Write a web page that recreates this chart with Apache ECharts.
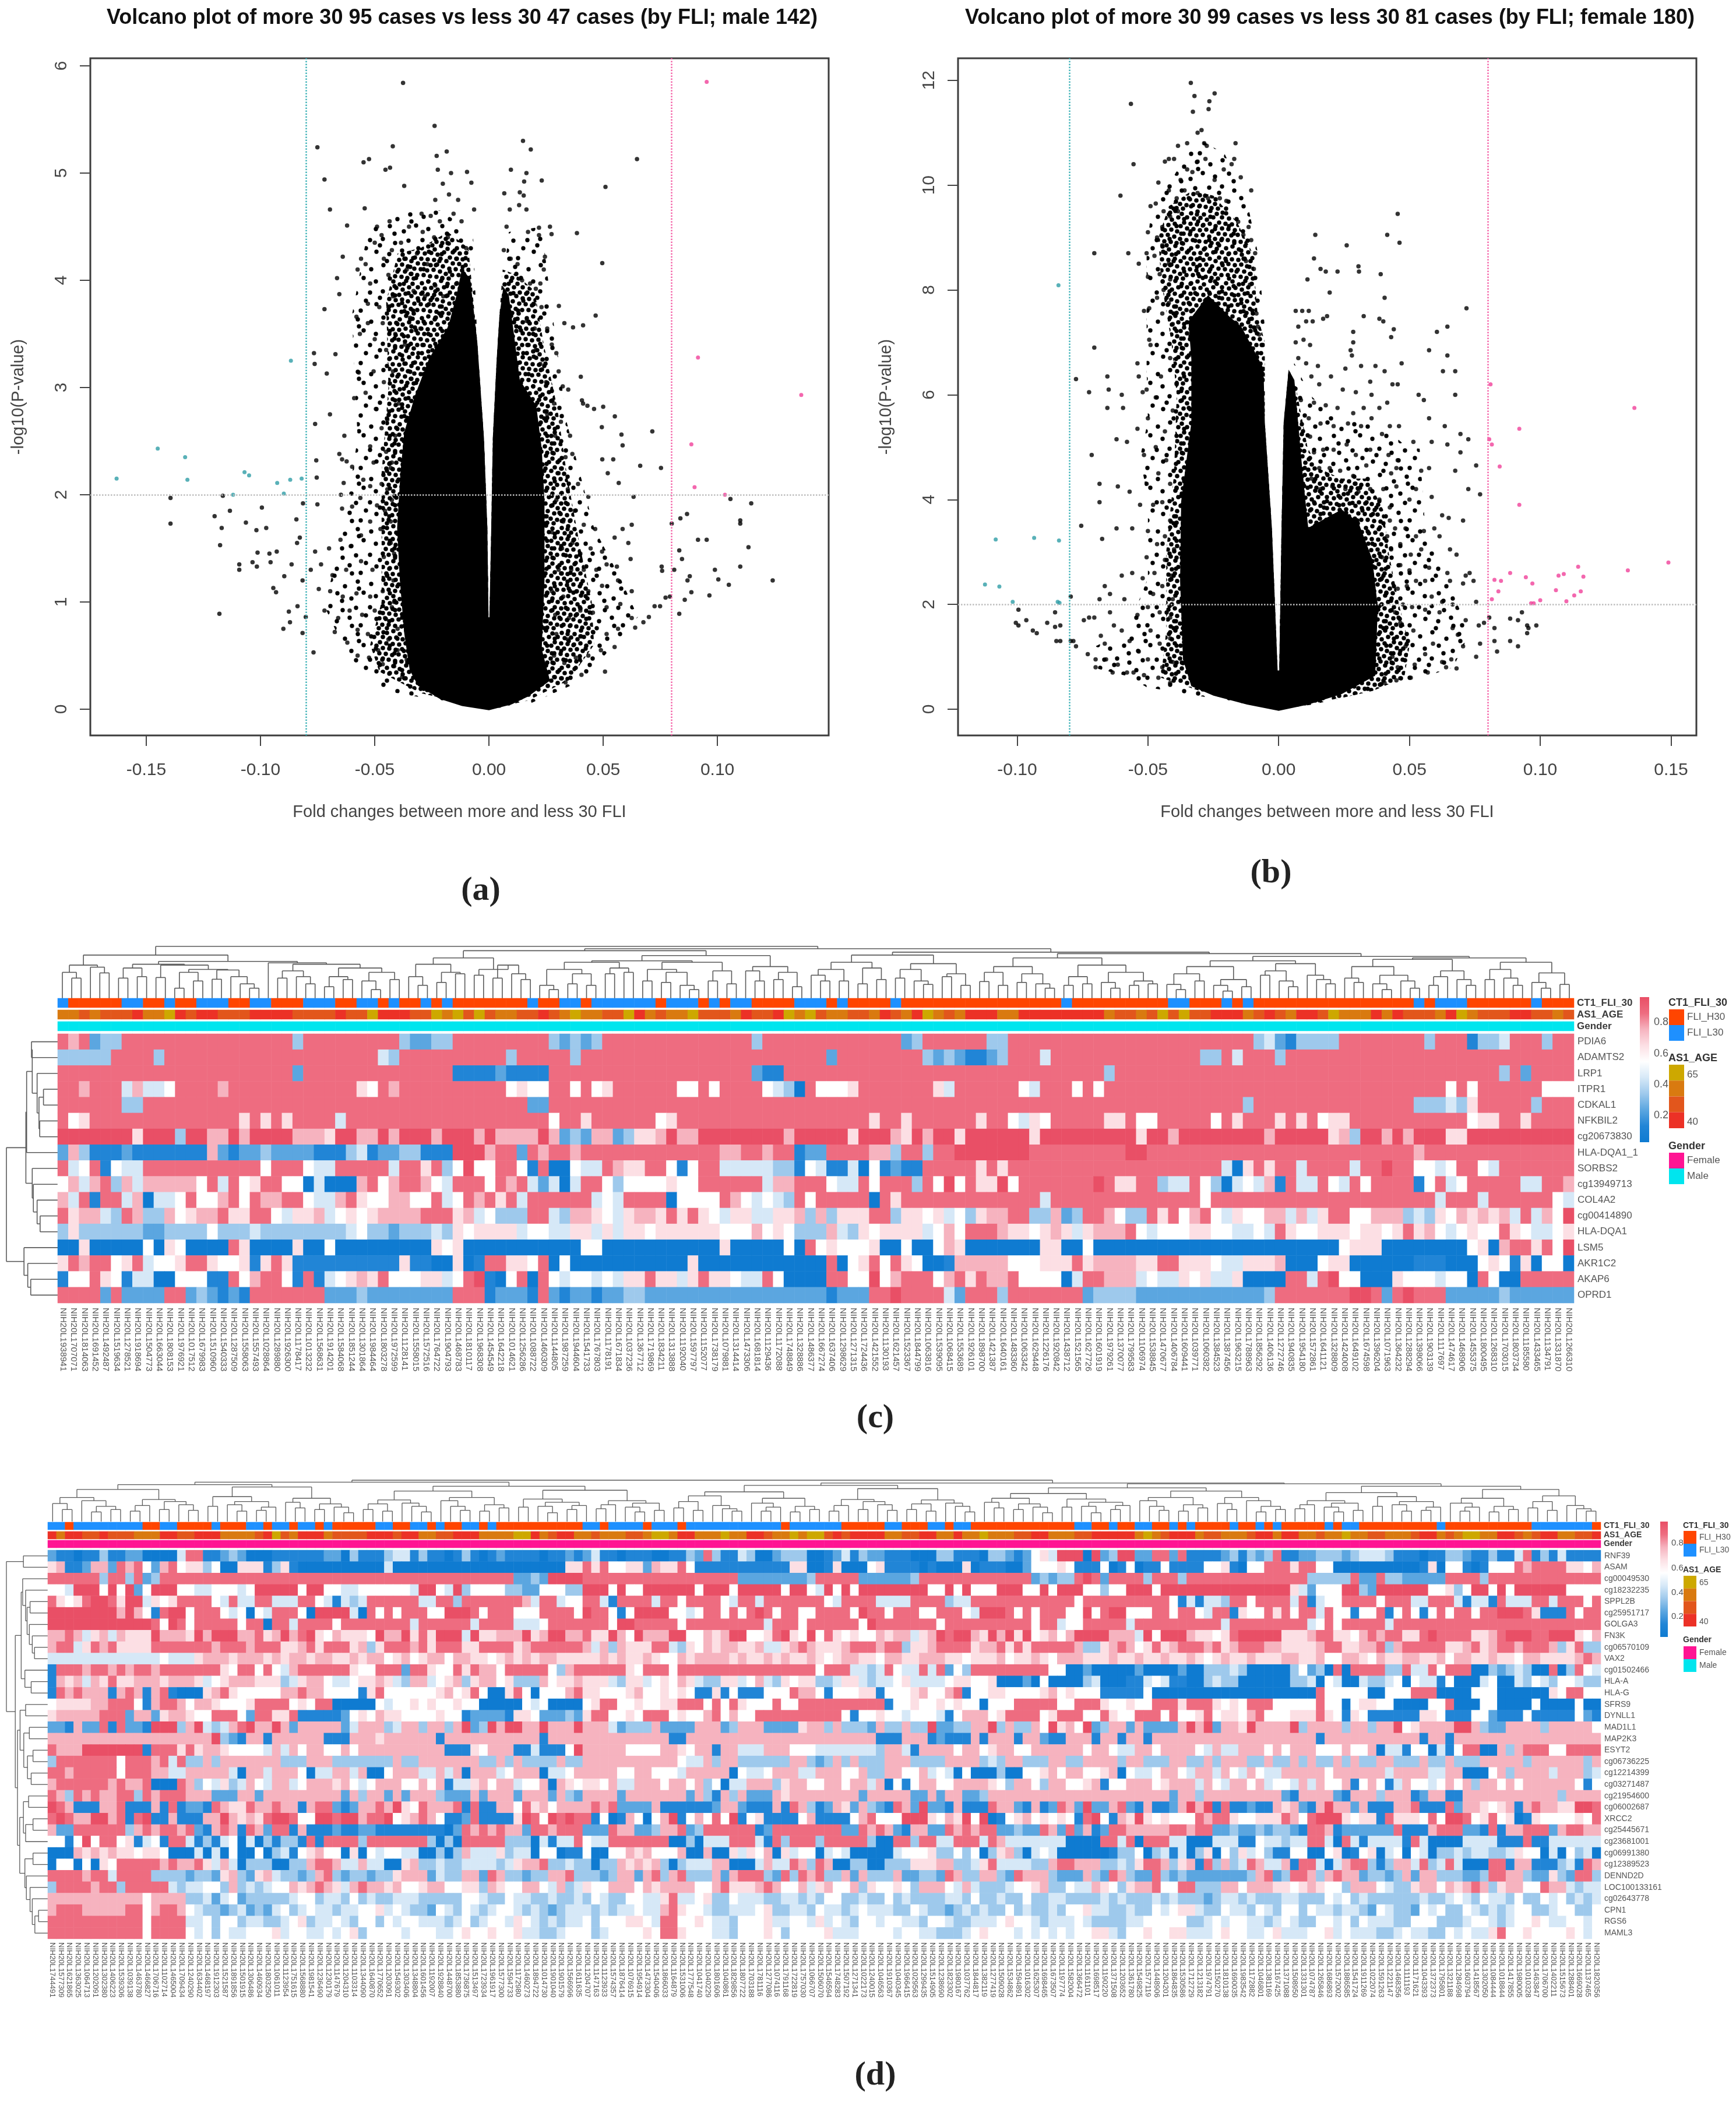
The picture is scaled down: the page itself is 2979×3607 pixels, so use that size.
<!DOCTYPE html>
<html><head><meta charset="utf-8">
<style>html,body{margin:0;padding:0;background:#fff}#c{width:2979px;height:3607px}</style>
<script src="https://cdn.jsdelivr.net/npm/echarts@6/dist/echarts.min.js"></script>
</head><body><div id="c"></div>
<script>
/* ---------- volcano data ---------- */
const xTicksA=[-0.15,-0.10,-0.05,0,0.05,0.10];
const yTicksA=[0,1,2,3,4,5,6];
const xTicksB=[-0.10,-0.05,0,0.05,0.10,0.15];
const yTicksB=[0,2,4,6,8,10,12];
const tealA=[[-.163,2.15],[-.145,2.43],[-.133,2.35],[-.132,2.14],[-.112,2.0],[-.107,2.21],[-.105,2.18],[-.0927,2.11],[-.0898,2.01],[-.087,2.14],[-.082,2.15],[-.0867,3.25]];
const pinkA=[[.0953,5.85],[.0915,3.28],[.1367,2.93],[.0886,2.47],[.09,2.07],[.1033,2.0]];
const coreA=[[0,-.01],[-.0118,.03],[-.0214,.094],[-.031,.217],[-.0347,.365],[-.0371,.71],[-.039,1.2],[-.0402,1.69],[-.0388,2.19],[-.0371,2.58],[-.0323,2.93],[-.0262,3.27],[-.0178,3.57],[-.0142,3.86],[-.0118,4.11],[-.0082,4.01],[-.0051,3.42],[-.0022,2.53],[-.0007,1.69],[-.0002,.857],[.0002,.857],[.001,1.69],[.0017,2.53],[.0034,3.27],[.0046,3.67],[.0063,3.94],[.0087,3.86],[.0111,3.47],[.0135,3.07],[.0207,2.83],[.0231,2.43],[.0243,1.94],[.0243,1.2],[.0231,.56],[.0267,.266],[.0171,.118],[.0099,.044]];
const denseLeftA=[[0,0],[-.03,.15],[-.048,.35],[-.052,.6],[-.047,1.0],[-.047,2.2],[-.044,3.0],[-.045,3.8],[-.04,4.25],[-.03,4.3],[-.018,4.45],[-.009,4.3],[-.0051,3.42],[-.0022,2.53],[-.0007,1.69],[-.0002,.857]];
const denseRightA=[[.0002,.857],[.001,1.69],[.0017,2.53],[.0034,3.27],[.0046,3.67],[.006,4.1],[.012,4.05],[.02,3.9],[.024,3.4],[.03,2.8],[.034,2.2],[.04,1.5],[.045,1.0],[.046,.6],[.035,.27],[.017,.08],[0,0]];
const sparseLeftA=[[0,0],[-.0455,.17],[-.0623,.51],[-.072,.96],[-.0636,1.69],[-.0575,2.53],[-.06,3.67],[-.0527,4.5],[-.0407,4.65],[-.0214,4.65],[-.007,4.45],[-.0051,3.42],[-.0022,2.53],[-.0007,1.69],[-.0002,.857]];
const sparseRightA=[[.0002,.857],[.001,1.69],[.0017,2.53],[.0034,3.27],[.0046,3.67],[.0087,4.45],[.0231,4.5],[.0267,3.86],[.034,2.68],[.046,1.69],[.058,1.2],[.0652,.86],[.0412,.27],[.0171,.044],[0,0]];
const blackA=[[-.0376,5.84],[-.0751,5.24],[-.0421,5.25],[-.0238,5.44],[.0149,5.3],[.0183,5.22],[.0648,5.13],[.051,4.87],[.0496,4.16],[.0385,4.44],[-.072,4.94],[-.0696,4.66],[-.0621,4.51],[-.0544,4.67],[-.0549,5.1],[-.0525,5.13],[-.0453,5.03],[-.0433,5.05],[-.0371,4.88],[-.0229,5.16],[-.0185,5.2],[-.0224,5.03],[-.0166,5.0],[-.0096,5.01],[-.0077,4.91],[-.0202,4.9],[.0096,5.03],[.0164,5.0],[.0154,4.92],[.0067,4.81],[.0231,4.93],[.0135,4.82],[.0152,4.79],[.0132,4.7],[.0091,4.66],[.0164,4.66],[.0077,4.5],[.0171,4.45],[.0219,4.49],[.0267,4.5],[.0219,4.42],[.0274,4.43],[.0467,3.67],[.0412,3.58],[.0368,3.56],[.033,3.6],[.0306,3.76],[.0402,3.1],[.0323,3.01],[.0347,2.98],[.0407,2.88],[.0412,2.85],[.0431,2.83],[.046,2.8],[.05,2.82],[.0551,2.73],[.0715,2.59],[.058,2.56],[.0585,2.46],[.0494,2.63],[.0496,2.33],[.0544,2.33],[.0662,2.27],[.0753,2.25],[.052,2.2],[.0568,2.11],[.0633,1.98],[.08,1.73],[.0838,1.78],[.0867,1.82],[.1057,1.96],[.1148,1.92],[.11,1.76],[.11,1.73],[.0915,1.58],[.0953,1.58],[.1136,1.51],[.0833,1.48],[.0845,1.4],[.11,1.33],[.0989,1.3],[.0879,1.24],[.0869,1.2],[.1004,1.21],[.1242,1.2],[.105,1.16],[.0965,1.06],[.0886,1.09],[.0857,1.02],[.0833,.89],[.0811,1.3],[.0758,1.29],[.0756,1.33],[.0792,1.05],[.0773,1.04],[.0749,.96],[.0725,.96],[.07,.86],[.0676,.81],[.064,.76],[.0508,.35],
[-.1394,1.97],[-.1394,1.73],[-.1165,1.99],[-.1134,1.85],[-.1201,1.8],[-.117,1.69],[-.1177,1.53],[-.118,.89],[-.0994,1.88],[-.1064,1.74],[-.0975,1.69],[-.1018,1.67],[-.1013,1.46],[-.1093,1.35],[-.1093,1.3],[-.1035,1.37],[-.1016,1.33],[-.0961,1.45],[-.0929,1.47],[-.0956,1.37],[-.0944,1.13],[-.0932,1.09],[-.0896,1.24],[-.0864,1.35],[-.0843,1.77],[-.0828,1.6],[-.084,1.55],[-.09,.75],[-.0876,.91],[-.0871,.81],[-.0838,.96],[-.0816,.71],[-.0768,.53],[-.0802,.86],[-.0816,1.2],[-.078,1.3],[-.0761,1.47],[-.0814,1.92],[-.0751,1.91],[-.0754,2.16],[-.0756,2.32],[-.0761,2.66],[-.0696,2.75],[-.071,3.13],[-.0766,3.32],[-.0763,3.22],[-.0672,3.31],[-.072,3.73],[-.0633,2.55],[-.0655,2.38],[-.0643,2.33],[-.0623,2.31],[-.0599,2.26],[-.0636,2.11],[-.0648,2.0],[-.0643,1.87],[-.0599,1.89],[-.0563,1.97],
[-.0665,4.02],[-.064,4.22],[-.0655,3.87],[-.0575,4.1],[-.056,4.2],[-.054,4.15],[-.052,3.97],[-.05,4.35],[-.049,4.5],[-.047,4.42],[-.046,4.2],[-.0435,4.55],[-.0425,4.28],[-.044,4.05],[-.048,3.75],[-.053,3.78],[-.058,3.66],[-.0565,3.5],[-.053,3.6],[-.05,3.45],[-.0465,3.6],[-.044,3.75],[-.042,3.85],[-.045,3.35],[-.041,3.5],[-.042,3.15],[-.046,3.05],[-.0505,3.15],[-.057,3.14],[-.054,2.95],[-.059,2.9],[-.0495,2.8],[-.047,2.62],[-.052,2.45],[-.0505,2.3],[-.0445,2.7],[-.045,2.4],[-.043,2.25],[-.047,2.1],[-.052,2.08],[-.055,2.14],[-.049,1.9],[-.0455,1.85],[-.0425,1.95],[-.0475,1.68],[-.052,1.75],[-.056,1.62],[-.0605,1.52],[-.065,1.58],[-.07,1.5],[-.0735,1.35],[-.0685,1.25],[-.0625,1.3],[-.056,1.38],[-.051,1.3],[-.046,1.42],[-.043,1.55],[-.0418,1.2],[-.0465,1.1],[-.052,1.05],[-.058,1.08],[-.064,1.05],[-.0695,1.1],[-.0745,1.12],[-.072,.92],[-.066,.85],[-.061,.92],[-.0555,.88],[-.05,.92],[-.0455,.85],[-.0425,.95],[-.0675,.72],[-.062,.62],[-.0575,.74],[-.053,.7],[-.0485,.55],[-.044,.65],[-.04,.55],[-.0575,.5],[-.0525,.48],[-.0465,.42],[-.0415,.4],[-.038,.3],[-.036,.46],
[-.0368,3.4],[-.0345,3.65],[-.033,3.9],[-.036,4.1],[-.0385,4.35],[-.035,4.5],[-.0315,4.25],[-.029,4.45],[-.027,4.15],[-.024,4.4],[-.0255,4.6],[-.0215,4.55],[-.018,4.4],[-.0155,4.62],[-.012,4.55],[-.0135,4.75],[-.0175,4.8],[-.0235,4.75],[-.0295,4.62],[-.01,4.3],[-.0065,4.66],[-.028,3.85],[-.0235,3.95],[-.02,3.85],[-.0235,3.65],[-.03,3.55],[-.035,3.15],[-.0395,2.85],[-.041,2.55],[-.0425,2.3],[-.0445,2.05],[-.043,1.75],[-.0415,1.45],[-.0445,1.25],[-.0415,1.0],[-.04,.75],
[.0065,4.28],[.0095,4.2],[.0125,4.15],[.0145,4.0],[.018,3.97],[.0205,3.92],[.0245,4.22],[.024,4.1],[.0225,3.97],[.0195,3.78],[.023,3.75],[.0165,3.62],[.02,3.55],[.0255,3.55],[.0275,3.4],[.0205,3.35],[.0225,3.22],[.0295,3.32],[.0305,3.15],[.025,3.05],[.0285,2.85],[.0255,2.75],[.0315,2.68],[.0355,2.55],[.029,2.55],[.0335,2.35],[.0365,2.38],[.0305,2.2],[.0345,2.05],[.039,2.1],[.0435,1.98],[.0295,1.95],[.0325,1.75],[.0375,1.85],[.0415,1.72],[.0465,1.68],[.0275,1.65],[.032,1.5],[.0365,1.55],[.04,1.45],[.0445,1.5],[.0495,1.47],[.055,1.6],[.0585,1.68],[.0625,1.72],[.061,1.55],[.0515,1.35],[.047,1.3],[.0415,1.3],[.036,1.3],[.0305,1.3],[.056,1.33],[.062,1.4],[.0565,1.2],[.0495,1.15],[.0435,1.1],[.0385,1.1],[.0325,1.05],[.0275,1.1],[.0625,1.1],[.0575,.98],[.0515,.95],[.0455,.9],[.04,.92],[.035,.85],[.029,.88],[.0625,.85],[.0565,.75],[.0515,.7],[.0455,.72],[.04,.68],[.0345,.65],[.0295,.7],[.055,.58],[.049,.55],[.0435,.5],[.038,.48],[.033,.43],[.0285,.5],[.0405,.32],[.0335,.25],[.0285,.3]];
const tealB=[[-.1123,2.38],[-.1082,3.24],[-.1068,2.34],[-.1017,2.05],[-.0935,3.27],[-.084,3.22],[-.0845,2.05],[-.0838,2.03],[-.0842,8.09]];
const pinkB=[[.081,6.2],[.0805,5.15],[.0815,5.05],[.0845,4.63],[.092,5.35],[.136,5.75],[.092,3.9],[.1335,2.65],[.149,2.8],[.0885,2.6],[.0825,2.47],[.085,2.45],[.0945,2.52],[.097,2.4],[.0815,2.1],[.084,2.25],[.0965,2.02],[.0975,2.02],[.1,2.08],[.106,2.27],[.107,2.55],[.109,2.58],[.11,2.06],[.113,2.17],[.1145,2.72],[.1155,2.25],[.1165,2.53]];
const coreB=[[0,-.03],[-.0121,.09],[-.0249,.26],[-.0334,.44],[-.0366,.95],[-.0377,2.45],[-.0373,3.96],[-.0334,5.47],[-.0334,6.68],[-.0345,7.4],[-.027,7.9],[-.019,7.5],[-.0143,7.3],[-.01,6.9],[-.0058,6.5],[-.0053,5.47],[-.0026,3.46],[-.0004,.74],[.0002,.74],[.0011,3.46],[.0019,5.47],[.0038,6.48],[.006,6.28],[.0092,4.47],[.0113,3.46],[.0241,3.81],[.0305,3.56],[.0358,2.86],[.0379,1.95],[.0369,.64],[.0241,.29],[.0113,.09]];
const denseLeftB=[[0,0],[-.0249,.26],[-.045,.6],[-.043,1.5],[-.043,3],[-.04,4.5],[-.039,6],[-.041,7],[-.045,8.2],[-.046,9],[-.042,9.6],[-.033,9.9],[-.025,9.8],[-.016,9.3],[-.01,8.7],[-.008,7.5],[-.0053,7],[-.0053,5.47],[-.0026,3.46],[-.0004,.74]];
const sparseLeftB=[[0,0],[-.0505,.42],[-.0569,.62],[-.0697,.78],[-.07,1.2],[-.058,1.5],[-.05,2.5],[-.05,4.0],[-.053,4.8],[-.05,5.5],[-.0505,6.48],[-.0505,8.69],[-.0484,9.7],[-.0398,10.2],[-.0313,10.9],[-.0207,10.6],[-.0121,9.7],[-.0079,8.69],[-.0053,7.28],[-.0053,5.47],[-.0026,3.46],[-.0004,.74]];
const denseRightB=[[.0002,.74],[.0011,3.46],[.0019,5.47],[.0038,6.48],[.006,6.3],[.011,5.0],[.015,4.6],[.024,4.4],[.034,4.4],[.04,3.8],[.042,3.0],[.046,2],[.05,1.2],[.048,.6],[.036,.35],[.013,.09],[0,0]];
const sparseRightB=[[.0002,.74],[.0011,3.46],[.0019,5.47],[.0038,6.48],[.006,6.6],[.012,6],[.02,5.6],[.04,5.4],[.049,5.0],[.0539,4.97],[.056,3.46],[.0646,2.45],[.073,1.45],[.0667,.8],[.0454,.44],[.0113,.09],[0,0]];
const blackB=[[-.0336,11.95],[-.0328,11.4],[-.0322,11.7],[-.0268,11.45],[-.0265,11.6],[-.0245,11.75],[-.0565,11.55],[-.0555,10.4],[-.0295,11.05],[-.031,11],[-.0285,10.8],[-.0275,10.75],[-.035,10.8],[-.04,10.5],[-.0385,10.75],[-.0165,10.8],[-.017,10.5],[-.018,10.4],[-.021,10.3],[-.0145,10.15],[-.0105,9.9],[-.0605,9.8],[-.046,10.05],[-.047,9.65],[-.049,9.6],[-.05,9.1],[-.0505,8.7],[-.0535,8.5],[-.0575,8.7],[-.0705,8.7],[-.05,8.25],[-.0495,7.65],[-.0515,7.6],[-.0435,10.45],[-.042,10.5],[-.0375,10.1],[-.035,10.3],[-.033,10.25],[-.031,10.45],[-.028,10.5],[-.0245,10.1],[-.0225,9.75],[-.02,9.7],[-.027,9.75],[-.031,9.85],[-.036,9.9],[-.039,9.75],[-.042,9.9],[-.044,9.5],[-.0415,9.4],[-.0385,9.5],[-.0445,9.2],[-.0465,9.0],[-.0475,8.65],[-.0445,8.85],[-.042,8.5],[-.0455,8.3],[-.044,8.0],[-.0415,8.2],[-.0465,7.85],[-.0445,7.55],[-.042,7.75],[-.0405,7.35],[-.0155,9.3],[-.0135,9.05],[-.0115,9.2],[-.0105,8.95],[-.009,8.7],[-.0095,8.4],[-.0125,8.55],[-.011,8.1],[-.0085,7.55],[-.008,7.3],[-.0075,7.15],
[.0455,9.45],[.0415,9.05],[.0462,8.9],[.014,9.05],[.026,8.85],[.0135,8.6],[.016,8.4],[.018,8.35],[.011,8.2],[.0225,8.35],[.0305,8.45],[.0307,8.35],[.039,8.3],[.0195,7.95],[.0405,7.85],[.0718,7.65],[.0065,7.6],[.009,7.6],[.0115,7.6],[.0185,7.5],[.017,7.45],[.0325,7.5],[.0385,7.45],[.04,7.4],[.044,7.25],[.0605,7.2],[.0645,7.3],[.0285,7.2],[.0285,7],[.043,7.1],[.0275,6.85],[.028,6.75],[.0575,6.85],[.0645,6.75],[.0675,6.45],[.0628,6.45],[.047,6.6],[.0315,6.55],[.037,6.55],[.0405,6.45],[.0255,6.5],[.0675,6.0],[.0535,6.0],[.0555,5.9],[.0455,6.2],[.0435,6.2],[.0075,7.3],[.0105,7.4],[.013,7.4],[.0065,7.0],[.0095,7.05],[.012,6.95],[.0075,6.7],[.0105,6.6],[.015,6.55],[.02,6.35],[.0125,6.35],[.0155,6.2],[.0245,6.1],[.0295,6.05],[.035,6.25],[.0355,6.0],[.0415,5.85],[.0385,5.75],[.0325,5.75],[.0285,5.65],[.0225,5.75],[.018,5.8],[.0135,5.85],[.0115,5.55],[.016,5.45],[.021,5.4],[.0265,5.45],[.0315,5.4],[.0355,5.55],[.0425,5.4],[.046,5.4],[.0515,5.1],[.0575,5.55],[.0635,5.4],[.0695,5.25],[.0725,5.15],[.0645,5.05],[.0585,5.1],[.0675,4.55],[.0695,4.9],[.0755,4.65],[.0725,4.2],[.077,4.1],[.0585,4.05],[.0575,4.6],[.0545,4.55],[.0525,4.2],[.05,4.0],[.0455,4.75],[.043,4.5],[.045,4.25],[.0625,3.7],[.065,3.65],[.0705,3.6],[.0595,3.45],[.0555,3.4],[.0525,3.3],[.0485,3.45],[.0465,3.15],[.0505,2.95],[.0545,3.05],[.0615,3.3],[.0655,3.05],[.068,2.95],[.0645,2.6],[.0575,2.7],[.05,2.65],[.0465,2.75],[.0715,2.55],[.0745,2.45],[.073,2.6],[.0705,2.4],[.0655,2.45],[.056,2.45],[.0525,2.45],[.049,2.35],[.0455,2.3],[.0585,2.15],[.0625,2.05],[.0665,2.0],[.0755,2.05],[.0475,2.0],[.051,1.95],[.056,1.9],[.0615,1.85],[.0665,1.55],[.0715,1.7],[.0765,1.6],[.0785,1.65],[.0805,1.75],[.0825,1.55],[.0825,1.3],[.0835,1.1],[.077,1.25],[.0755,1.0],[.0705,1.2],[.0685,1.42],[.066,.95],[.0625,.9],[.059,1.25],[.056,1.05],[.0515,1.5],[.0485,1.2],[.0465,1.65],[.0435,1.0],[.0445,1.85],[.0395,2.5],[.0415,3.3],[.04,4.2],[.0425,3.6],[.0395,2.9],[.0455,.8],[.052,.85],[.057,.7],[.064,.8],[.068,.78],[.0505,.6],[.045,.55],[.0405,.5],[.0885,1.73],[.093,1.85],[.0885,1.3],[.095,1.45],[.0955,1.55],[.0915,1.2],[.0985,1.6],[.095,1.6],[.0915,1.7],
[.0085,5.9],[.012,5.2],[.0135,4.9],[.017,4.95],[.021,4.95],[.026,5.05],[.0295,4.85],[.035,4.95],[.0395,5.25],[.042,4.85],[.045,4.6],[.0335,4.65],[.0285,4.45],[.0235,4.55],[.0195,4.6],[.0155,4.6],[.0125,4.4],[.016,4.2],[.0205,4.25],[.0255,4.2],[.0305,4.15],[.035,4.2],[.0385,4.0],[.0425,3.85],[.0445,3.45],[.043,3.05],
[-.0715,4.85],[-.0685,4.3],[-.0685,3.95],[-.0725,6.05],[-.0705,6.9],[-.0775,6.3],[-.0655,6.35],[-.065,6.1],[-.0655,5.75],[-.06,6.0],[-.0595,5.75],[-.052,6.05],[-.0505,6.1],[-.054,6.6],[-.049,6.95],[-.0495,7.05],[-.0535,6.35],[-.062,5.15],[-.058,5.1],[-.0615,4.25],[-.057,4.15],[-.0755,3.5],[-.0675,3.25],[-.062,3.45],[-.056,3.45],[-.053,3.9],[-.0505,4.3],[-.0515,4.85],[-.054,5.35],[-.05,5.55],[-.047,5.95],[-.045,6.35],[-.0415,6.7],[-.047,5.0],[-.0435,5.3],[-.046,4.5],[-.043,4.75],[-.0415,4.3],[-.0405,5.7],[-.039,6.2],[-.048,3.9],[-.0445,3.95],[-.0415,3.6],[-.05,3.4],[-.0465,3.15],[-.0435,3.3],[-.0505,2.9],[-.0475,2.6],[-.0435,2.85],[-.04,3.05],[-.041,2.55],[-.0445,2.35],[-.048,2.2],[-.052,2.5],[-.056,2.6],[-.06,2.55],[-.0645,2.2],[-.0665,2.35],[-.059,2.1],[-.054,1.8],[-.05,1.95],[-.0455,1.85],[-.0415,1.75],[-.0405,2.1],[-.06,1.5],[-.0645,1.85],[-.0685,2.1],[-.068,1.4],[-.0705,1.75],[-.0725,1.75],[-.0745,1.7],[-.0795,2.15],[-.0785,1.3],[-.0775,1.2],[-.073,1.05],[-.07,.95],[-.0665,1.25],[-.063,1.6],[-.057,1.3],[-.0535,1.1],[-.049,1.5],[-.0455,1.25],[-.0415,1.35],[-.0405,.9],[-.0445,.8],[-.05,.95],[-.0555,.7],[-.0615,.85],[-.066,.95],[-.07,.8],[-.0635,.7],[-.058,.7],[-.0515,.65],[-.046,.6],[-.0415,.5],[-.0795,1.3],[-.0835,1.6],[-.0855,1.57],[-.0855,1.85],[-.0885,1.65],[-.0925,1.45],[-.094,1.5],[-.0965,1.7],[-.0995,1.9],[-.0995,1.6],[-.1005,1.65],[-.085,1.3],[-.0835,1.3]];
const hLine=[2], vLineTeal=[-0.08], vLinePink=[0.08];

/* ---------- heatmap (c) ---------- */
const rowsC=["PDIA6","ADAMTS2","LRP1","ITPR1","CDKAL1","NFKBIL2","cg20673830","HLA-DQA1_1","SORBS2","cg13949713","COL4A2","cg00414890","HLA-DQA1","LSM5","AKR1C2","AKAP6","OPRD1"];
const sampleC=[1938941,1707071,1814063,1691452,1492487,1519634,1278521,1918694,1504773,1663044,1808153,1976921,1017512,1679983,1510960,1540333,1287509,1558063,1557493,1028864,1289880,1926300,1178417,1013232,1568631,1914201,1584068,1851244,1301864,1984464,1803278,1972599,1128141,1558015,1572516,1764722,1904793,1468783,1810117,1968308,1454549,1642218,1014621,1256286,1088722,1460309,1144805,1987259,1944604,1541733,1767803,1178191,1671834,1037236,1367712,1719869,1834211,1313888,1192040,1597797,1152077,1738179,1079881,1314414,1473306,1681814,1129436,1172088,1748849,1328886,1486377,1667274,1637406,1298629,1271315,1724436,1421552,1130193,1621457,1523367,1844799,1063816,1539095,1068415,1553689,1926101,1898700,1421387,1640161,1483360,1063342,1629448,1226176,1920842,1438712,1521565,1627726,1601919,1979261,1370077,1799583,1106974,1538845,1470677,1406784,1609441,1039771,1060382,1384523,1387456,1963215,1788963,1856292,1406136,1272746,1940835,1954180,1572861,1641121,1328809,1424008,1649102,1674598,1396204,1071963,1364232,1288294,1398066,1903139,1117697,1474617,1468906,1455375,1800495,1268310,1703015,1803734,1185580,1433465,1134791,1331870,1266310];
const ctC="1 00000 11 00 1 00 111 00 11 000 111 00 11 0 1 00 1 0 1 0000000 1 00 11 0 111111 0 111 0 1 0 11 0000 111 0 1 0000 1 000000000000000 1 000000000 11 000 1 0 1 000000000000000 1 0 111 000000 1 000";
const ageC="1121222 3 1 1 0 3 2 3 3 2 2 2 3 3 3 3 2 2 2 2 3 2 2 0 3 3 3 2 2 0 1 0 2 0 2 1 1 2 2 3 2 1 0 1 1 2 2 0 3 1 2 1 1 0 2 2 2 1 3 2 2 3 0 1 0 2 1 1 2 2 1 3 2 1 3 0 1 2 1 3 3 3 1 1 3 3 3 3 3 3 3 3 1 2 2 1 2 0 2 0 2 2 3 3 3 1 2 3 2 1 3 3 2 0 1 1 1 3 1 3 2 2 2 1 3 0 1 2 2 2 3 3 2 2 1 2 3 3 2 3 1 2";
const genderC="1";
const matC=[
"878233"+"8888888888888888"+"3"+"888888888"+"3"+"22"+"33"+"888888888"+"323"+"23"+"88888888888888"+"3"+"8888888888888"+"23"+"888888"+"33"+"888888888888888"+"88888888"+"34213333"+"88888888"+"3"+"888"+"133"+"4"+"888"+"3"+"88",
"33333"+"8888"+"3"+"88888888888888888888"+"43"+"8888888888"+"3"+"88888"+"3"+"88888888888888888888888"+"2"+"88888888"+"32321123"+"888"+"4"+"88888888888"+"888"+"33"+"8"+"4"+"888"+"3"+"888888888888888888888888888",
"8888888888888888888888"+"2"+"88888888888888"+"111121111"+"888"+"8888888888888888"+"211"+"888888888888888888888888888888"+"3"+"88888"+"8888888888888888888888888888888"+"3"+"8"+"2"+"8888",
"887888"+"4"+"7"+"445"+"8888"+"7"+"888888888888"+"65"+"87"+"8888888888"+"5655"+"88"+"5"+"8"+"56"+"888888"+"55"+"8"+"5"+"8888"+"543"+"0"+"8"+"5556"+"8888888"+"64"+"888888"+"54"+"888"+"5"+"8"+"5"+"8888888"+"8888888888888888888888888"+"5"+"8"+"5"+"888888"+"555"+"8",
"888888"+"33"+"888888888888888888888888888888888888"+"22"+"888"+"8888888888888888888888888888888888888888888888888888888"+"8888888"+"3"+"888888888888888"+"33343"+"6"+"88888"+"3"+"888",
"856"+"88888888888888"+"68686"+"8888"+"4"+"8888888888888888888"+"5"+"88"+"6"+"888888"+"56"+"888888888888888888"+"6"+"88"+"6"+"888888"+"6"+"88"+"5465"+"88888"+"66"+"8"+"55"+"8"+"8888"+"5"+"8"+"6"+"888"+"6"+"8"+"6"+"8"+"566"+"88888888888"+"566"+"88"+"6"+"8888",
"9999999"+"6"+"999"+"3"+"99"+"77"+"9"+"7"+"9999"+"7776"+"99"+"77"+"9"+"7"+"999"+"7"+"999"+"7"+"9"+"7777"+"9"+"7"+"2"+"3"+"2"+"77"+"23"+"667"+"9"+"77"+"99999999"+"7"+"99999"+"6"+"999"+"7"+"6"+"9"+"7"+"99"+"6"+"999999"+"6"+"999999999"+"6"+"99"+"7"+"99999999"+"7"+"99999"+"67"+"3"+"99"+"7"+"9"+"7"+"999"+"66"+"9999999999",
"273"+"11"+"1"+"2"+"1111111"+"7"+"2122322"+"22"+"111"+"34"+"1"+"22"+"33"+"111"+"999"+"7"+"88"+"2"+"8"+"7"+"88"+"7"+"8888888888888"+"77"+"88"+"7"+"88"+"122"+"8888"+"773"+"88"+"3"+"8899999998888888889988"+"88888888888888888888888"+"7"+"88888888888888",
"845815"+"44"+"88888888888"+"5"+"888"+"544"+"88888"+"4"+"88"+"6"+"8"+"3"+"5"+"9"+"55"+"88"+"5"+"1"+"8"+"00"+"5"+"44"+"87"+"66"+"88"+"515"+"88"+"4444433"+"1"+"54"+"11"+"4"+"0"+"5"+"12"+"11"+"88888"+"6"+"8"+"6"+"888888888888888"+"88888"+"40686"+"88"+"4"+"8888"+"4"+"88"+"9"+"88"+"5545"+"88"+"54"+"8888888",
"57478374"+"77777"+"5848568855"+"04000"+"785"+"7887"+"54"+"888"+"587842404"+"88"+"53"+"5555"+"6"+"55"+"888888"+"4"+"77"+"888"+"544"+"8"+"5"+"888"+"3"+"8"+"5"+"9"+"5"+"8"+"66"+"9"+"5"+"8888888"+"9"+"8"+"66"+"883"+"44853"+"0"+"4547"+"1"+"8"+"44"+"8"+"54"+"8"+"5"+"8888"+"1"+"5"+"8"+"45"+"88888"+"44"+"887",
"7481884704458557"+"85877"+"88"+"5447"+"86557"+"755"+"8"+"4"+"5"+"8"+"7"+"86"+"8"+"4"+"88888"+"8"+"4"+"5"+"4"+"8888"+"0"+"5"+"555"+"8"+"7"+"54543"+"8"+"5"+"88888"+"0"+"8"+"6"+"8888888888888"+"4"+"88888888888"+"888"+"5"+"888888888888888888888"+"4"+"888"+"4"+"888888"+"54",
"8677438733756778668854667456567777888674533388"+"437"+"7654677686"+"8654664466"+"7373666883"+"6656"+"4536"+"778833"+"7238875338"+"68578"+"5465577474"+"6885577734"+"3657676748"+"47595344",
"3633333322"+"3333533343"+"3333333453"+"3233343656"+"666455446"+"6464665666"+"6665557565"+"3337436566"+"6645758887"+"6656764677"+"78545"+"5566554454"+"8655666566"+"5686754565"+"58654456",
"00"+"6"+"00000"+"5"+"0"+"65"+"0000"+"86"+"0000"+"6"+"00"+"5"+"000000000"+"65"+"6"+"00000000000"+"55"+"00000000000"+"6"+"00000"+"5"+"0"+"8"+"565556"+"00"+"5"+"00"+"5"+"7"+"6"+"0000000"+"66"+"00"+"5"+"0000000"+"0000000000000000"+"5666"+"00000000"+"5607886859",
"6878856845"+"5688655616"+"8611111111"+"1161100601"+"886658050"+"0000000000"+"6"+"000000000000"+"80"+"56"+"858"+"65"+"001"+"7"+"7777"+"555"+"666"+"86"+"7777"+"66"+"8"+"8666544666"+"7"+"000"+"566"+"000000"+"1"+"11000"+"56"+"51605500",
"1558651440"+"0555118578"+"8518145676"+"8555664589"+"105808545"+"5454668664"+"6866544850"+"0008855957"+"8885786877"+"8555504887"+"77454"+"4656446000"+"0884895500"+"0655545508"+"50088888",
"8888282222"+"8823212188"+"8888822232"+"2222222888"+"122218212"+"2122332222"+"2222222222"+"2221222889"+"8888428883"+"8888888233"+"33222"+"2222222223"+"8888888998"+"2898882222"+"23222222"
];

/* ---------- heatmap (d) ---------- */
const rowsD=["RNF39","ASAM","cg00049530","cg18232235","SPPL2B","cg25951717","GOLGA3","FN3K","cg06570109","VAX2","cg01502466","HLA-A","HLA-G","SFRS9","DYNLL1","MAD1L1","MAP2K3","ESYT2","cg06736225","cg12214399","cg03271487","cg21954600","cg06002687","XRCC2","cg25445671","cg23681001","cg06991380","cg12389523","DENND2D","LOC100133161","cg02643778","CPN1","RGS6","MAML3"];
const sampleD=[1744491,1577309,1621865,1363025,1064713,1202091,1302380,1406223,1539306,1039138,1463780,1466827,1706716,1102714,1465004,1709434,1240290,1634402,1468197,1912303,1521587,1891856,1501915,1306486,1460934,1803250,1061011,1123954,1751615,1568880,1981541,1236490,1230179,1147679,1204310,1103314,1344090,1640870,1770652,1203091,1549302,1303406,1348804,1601456,1192007,1928840,1448700,1853880,1736875,1513497,1723934,1961917,1577300,1594733,1172980,1460273,1894722,1014730,1901040,1901579,1566996,1611635,1204707,1147163,1123933,1574357,1876414,1076915,1954914,1473304,1540406,1866033,1164879,1531006,1777548,1041740,1040229,1801606,1040861,1829856,1807722,1703188,1781116,1277086,1074116,1791168,1722819,1757030,1066707,1506070,1546594,1748283,1507192,1271341,1022173,1240015,1046563,1910367,1040345,1966415,1029563,1299435,1514905,1238690,1823302,1980167,1037762,1844817,1382119,1277419,1509028,1534862,1594891,1016302,1625307,1698465,1673507,1197774,1582004,1366472,1161101,1698517,1190220,1371508,1203652,1361780,1549825,1577119,1448906,1204201,1864835,1530586,1712729,1213182,1974791,1150270,1810138,1690035,1983542,1172882,1046801,1381169,1167425,1371088,1508950,1331301,1074787,1265846,1686893,1572002,1886585,1541724,1911269,1022074,1591263,1221147,1468356,1111193,1171621,1043393,1372373,1795801,1321188,1284998,1603794,1418567,1302050,1084444,1018844,1417855,1980005,1010328,1463847,1706700,1402211,1515673,1288401,1669028,1137465,1820356,1755012,1290864];
const ctD="11 0 11111111 00 11 0000 1 000 11 0 11 0 11 0 1 00000 11 00 11 0 1 00 11 0 1 0000000000 11 0 1111 0 111 0 11111111111 0 111111 00000 11 000 11 0 11 000000000000 11 00 1 00 11 00 1 0 1 0000 1 00 1 0 1 00000 1 0 11 000000000 1 0000000000 1111111 00";
const ageD="3133 2 2 3 2 2 2 1 1 1 3 3 2 2 3 3 3 1 1 1 1 2 3 0 2 1 3 3 3 1 2 2 2 2 3 3 3 2 3 3 1 1 2 2 3 3 3 1 1 1 1 0 0 3 1 2 3 3 1 1 2 1 1 1 2 2 1 0 0 1 3 3 1 1 1 0 1 1 3 3 2 1 1 0 1 0 0 2 3 2 3 3 3 3 1 1 2 2 3 3 1 1 3 1 1 0 1 1 1 2 2 3 3 1 1 1 2 2 3 3 3 3 3 1 0 1 2 3 3 3 1 2 2 1 1 1 2 3 3 1 3 3 1 1 2 1 1 0 1 1 2 2 1 1 1 2 3 3 1 2 1 0 0 1 1 3 3 2 1 2 3 3 1 1 2 2 3 3 1 0";
const matD=[
"2110113112200004881123200011111122031113441311013101211110112 1|24110111001 1 3 2 8 3 11 43 00 2 333 001 2 4 1 322 111000 33 1110 332 1 2 5 6 4 999 0 9 23 99 22 88|2 8 1 1 1 1 2 3 1 3 2 3 8 1 1 2 2 3 3 3 2 3 4 4 4 3 1 1 1 0 1 1 3 3 2 1 1 3 1 1 4 8 1 3 1 4 1 1 1 1",
"67112772878527856635006661361 0000000000 4 00000000000000000000 6|8 6 8 5 5 6 6 2 7 6 6 8 5 1 1 1 1 1 1 1 1 1 1 1 6 6 0 0 1 6 0 0 0 5 6 1 1 1 1 0 1 0 0 0 6 0 1 1 1 0 0 2 5 5 5 6 5 1 1 1 5 0 1 5 0 1 1 5|1 1 1 1 5 5 6 1 0 5 5 8 8 8 6 8 8 5 5 0 0 0 0 0 0 0 0 0 0 1 6 0 5 5 1 0 1 5 5 5 8 7 8 8 8 8 6 6 5 7",
"888888388382388888888888888888888888888888888888888888 2232 999988|8 8 8 8 8 8 8 8 8 8 8 8 8 8 8 8 8 8 2 2 2 2 2 2 2 2 3 8 8 8 8 8 2 2 2 2 2 2 3 8 8 8 8 8 8 8 8 8 8 8 8 8 2 3 2 3 3 8 9 8 2 8 8 8 8 3 8 8|8 3 8 8 8 8 8 8 8 8 8 8 8 8 8 8 3 3 3 3 3 8 2 2 8 3 3 2 2 2 2 2 8 8 8 8 3 8 8 8 8 8 8 8 8 8 8 8 8 8",
"554999595925999554455545 99999 5 99 55445555554 99 54 9 3 5555 332 2 555 3|9 9 9 5 9 5 5 9 9 9 9 9 9 5 9 9 9 5 9 9 9 9 9 5 9 9 5 4 9 5 9 5 9 9 9 9 9 9 9 9 5 5 9 5 9 5 5 5 9 9 9 5 5 9 5 9 9 9 5 5 3 5 5 9 9 9 5 9|9 9 9 9 9 9 9 9 9 9 9 9 9 9 6 4 2 5 5 5 9 9 3 2 9 9 9 9 9 9 5 5 6 3 5 9 9 5 9 5 9 9 9 9 9 9 5 5 5 5",
"8656899869946568888548 44884448854 1 43 4 888888 44 88 3 888888 87 4 88 45 5|8 8 4 1 8 8 8 8 4 8 8 5 8 8 8 8 5 4 8 8 4 8 8 8 8 8 8 8 5 4 8 8 8 8 4 4 4 4 8 8 8 8 3 4 4 8 8 8 8 8 8 8 8 8 8 8 8 5 8 8 8 8 8 8 8 8 8 8|5 1 4 1 4 4 3 8 8 5 8 8 8 8 4 8 1 4 5 5 8 8 8 8 5 8 8 8 4 4 8 8 8 4 1 4 4 1 8 4 4 4 8 8 4 8 8 8 5 8",
"99999999 7 9 7 5 1 8 99 5 888 545 0 54 888 5 0 9999 4 0 8 5 8 5 888 55 999 8 5 888 555 8888 5|9 8 8 5 1 5 9 9 9 9 5 5 4 5 8 8 5 8 5 8 9 8 5 8 8 5 5 8 8 8 8 5 9 8 8 5 8 8 8 5 5 8 8 8 5 4 9 9 9 8 5 8 5 8 8 8 5 5 9 5 8 9 9 5 5 5 8 8|5 8 8 5 4 8 8 1 6 5 5 8 6 8 5 8 8 4 8 5 5 1 5 5 8 1 5 8 5 1 5 8 5 8 8 5 8 8 9 9 9 8 6 1 1 1 8 5 8 8",
"999999999999 8 5 9 8 5 88888 5 88 0 88 4 8888 5 88888888 4 888888 4 88 88 444 5 8888|8 8 8 5 9 9 8 8 8 8 8 5 8 8 8 8 8 8 8 8 8 4 8 8 8 5 8 8 8 8 8 8 5 9 8 8 8 8 8 8 8 5 8 8 8 8 8 8 8 8 8 8 5 8 8 4 5 5 8 8 8 8 8 4 8 8 8 8|8 8 8 8 8 8 4 8 8 8 8 8 8 8 8 8 4 5 8 5 8 8 8 8 8 4 8 8 8 8 8 8 8 8 8 8 8 8 8 8 8 8 8 8 8 8 8 8 8 8",
"7787467476669 77 7 6 9 7 999 77 8 6 7 9 7 8 9 6 5 766 6 5 9 77 9 6 8 6 999 4 9 66 7 77 9 6 7 99 7|8 6 6 9 7 5 9 7 7 7 9 9 5 5 7 6 7 9 9 5 5 6 8 9 6 5 9 5 8 6 5 6 5 5 7 6 7 7 4 6 7 9 8 9 9 7 6 9 7 9 6 9 5 6 7 5 7 9 9 9 9 7 7 7 4 9 5 9|9 9 7 6 6 5 6 8 9 9 9 9 9 6 6 6 7 8 8 6 6 5 7 8 7 8 8 6 6 8 9 8 8 8 8 6 6 7 8 9 9 9 8 8 9 9 9 6 5 7",
"7 88 4 6 8 7 8 6666 8888888 7 8 8 8 7 8 8 8 6 6 7 8 6 8 8 8 6 7 3 6 8 8 8 7 8 6 8 8 8 6 6 8 8 8 8 6 7 8 8 8 8 8 8 8 7 8|7 4 7 3 7 6 6 6 8 8 4 3 6 5 7 6 7 7 6 6 7 4 4 6 7 8 7 6 6 6 7 8 8 8 7 8 8 3 6 6 7 8 8 8 8 6 7 7 8 6 8 6 8 8 8 8 8 7 3 3 6 7 8 7 5 6 8 6|7 8 8 8 7 8 6 7 8 8 8 7 7 6 6 6 6 7 8 8 6 6 7 7 8 3 7 8 8 8 8 8 6 6 7 8 6 7 8 8 7 8 8 8 7 3 6 8 3 3",
"4444444444444 5 444 6 7 7 7 6 7 7 7 6 7 6 7 7 6 7 7 6 6 7 6 7 7 5 6 7 5 6 7 7 5 7 7 6 6 5 6 7 6 7 6 7 7 6 6 6 5 5 5 6 7|6 6 7 6 7 6 6 7 6 5 5 7 6 7 7 7 7 6 7 6 6 7 6 7 6 6 7 6 5 6 7 7 6 6 5 7 7 6 6 7 7 7 6 6 5 6 6 6 7 5 6 6 7 6 5 7 7 7 6 6 6 7 6 6 7 6 6 7|6 6 7 6 5 6 7 6 6 7 6 6 6 7 7 6 6 7 5 5 7 7 6 5 7 6 6 7 7 6 6 7 5 7 7 6 6 7 6 6 5 7 7 6 6 6 6 7 8 7",
"1 8 8 8 7 8 8 7 8 7 8 8 7 8 8 8 8 8 8 8 6 5 8 8 5 8 5 4 7 8 8 8 8 8 8 6 5 5 8 8 8 2 8 8 6 5 5 8 6 8 7 7 5 8 8 8 8 8 5 3 7 8|8 8 8 8 8 6 5 8 8 8 5 8 8 8 8 8 8 8 8 8 8 8 8 8 8 8 8 5 8 8 8 4 4 3 4 8 5 4 4 8 4 8 2 5 3 8 8 8 8 8 8 8 8 8 5 5 0 0 2 0 0 0 0 0 2 0 0 0|0 2 0 0 3 3 3 4 3 0 0 0 0 0 3 5 2 3 0 8 0 8 8 8 8 3 3 8 4 4 8 5 8 8 8 0 0 3 2 3 4 3 0 0 8 0 3 8 5 4",
"1 7 6 7 4 7 6 8 6 6 7 7 7 6 7 7 7 6 4 5 6 7 7 7 6 6 6 3 4 6 7 7 5 4 4 5 6 6 7 6 4 3 7 7 4 5 6 7 3 6 7 7 5 6 3 3 3 7 5 6 6 7|6 6 6 4 3 6 6 4 5 6 5 7 6 4 3 3 6 6 4 5 7 4 3 6 5 6 6 3 3 4 6 6 4 3 4 4 5 6 4 4 4 4 5 6 6 5 5 6 0 0 0 2 0 5 0 0 0 0 3 4 0 0 0 1 1 4 5 4|1 1 0 0 3 4 3 3 0 0 0 0 0 0 3 3 4 0 5 4 0 0 4 3 3 4 5 0 5 4 4 1 5 0 0 0 4 5 0 0 4 3 5 4 3 5 5 4 3 3",
"1 8 7 8 7 7 7 1 7 8 7 1 7 8 1 0 0 0 6 7 8 6 5 5 5 5 5 7 7 8 7 7 5 5 5 5 1 6 8 5 5 5 5 5 5 6 7 5 6 8 5 0 0 6 8 5 0 5 5 5 7 8|6 6 5 5 5 6 7 5 5 6 5 6 5 1 1 6 1 5 1 1 1 5 5 5 8 7 7 5 1 5 5 5 6 6 1 5 5 5 6 7 5 5 7 8 1 5 5 6 6 5 5 5 5 6 7 5 6 5 5 5 1 1 1 1 1 5 0 0|0 0 0 0 0 0 0 0 0 0 0 0 0 0 0 0 0 8 5 5 5 5 5 0 0 5 5 5 8 8 8 0 0 0 0 5 5 5 0 0 0 0 0 0 6 5 8 8 5 5",
"5 6 6 6 6 7 7 8 8 8 5 1 7 8 8 7 5 7 7 6 5 5 5 6 8 8 8 8 5 6 5 8 8 0 0 0 0 0 5 4 5 5 6 5 6 5 5 6 5 5 0 0 0 0 0 5 4 5 0 0 0 0|5 6 8 8 5 5 6 5 5 6 6 8 8 8 5 8 5 8 6 5 5 5 8 5 5 8 8 8 8 8 8 8 8 8 8 1 5 5 6 5 5 6 5 6 5 5 0 5 5 5 8 8 8 8 8 5 5 8 8 8 6 5 5 6 5 5 8 8|8 6 8 8 8 6 5 6 5 8 8 8 5 5 5 5 5 8 5 5 0 5 6 6 5 5 0 0 0 0 5 5 8 0 0 0 5 5 0 0 0 0 5 0 0 0 0 5 0 0",
"6 7 7 7 7 7 8 8 8 2 7 7 2 6 7 7 6 5 5 8 8 8 5 2 8 8 6 6 8 1 1 1 1 1 2 5 6 5 7 6 6 5 5 5 5 6 5 5 1 2 2 2 2 1 6 6 5 2 2 2 3 2|6 8 8 5 5 6 5 8 8 8 5 6 5 5 7 8 5 7 5 5 8 8 8 8 8 8 8 8 8 8 5 1 5 5 6 5 5 4 5 5 5 4 1 5 7 7 7 5 6 8 8 8 8 5 6 8 8 8 5 5 8 6 5 5 8 8 8 5|8 5 5 6 8 5 6 6 5 7 8 5 5 5 6 6 6 8 6 5 1 6 5 1 1 1 1 1 1 6 6 5 1 1 1 5 5 2 1 1 1 5 1 1 1 1 1 5 2 1",
"2 2 1 7 2 2 8 1 8 2 2 1 9 9 9 3 7 9 4 3 4 7 8 9 7 7 9 7 2 7 7 7 7 7 2 4 7 7 7 3 4 7 7 3 7 7 3 7 9 2 3 9 7 9 9 7 7 9 7 7 7 9|7 7 7 4 2 3 3 3 7 2 2 2 2 7 7 7 2 3 7 7 7 2 2 2 2 6 7 7 3 7 3 3 3 2 7 3 3 7 3 3 9 2 2 3 3 7 7 9 3 7 3 3 7 5 9 6 7 5 9 2 3 7 7 2 7 2 2 2 2|2 7 9 7 9 2 7 7 6 9 7 7 7 7 9 3 7 7 7 7 3 7 7 3 7 7 9 5 6 7 7 7 7 9 9 7 3 2 2 7 7 7 7 3 7 7 7 7 7 5",
"7 7 7 7 7 7 7 7 7 7 7 7 7 7 7 7 7 7 7 9 3 2 1 7 7 1 7 7 7 7 7 7 1 1 1 7 7 7 6 7 7 7 7 7 7 1 7 7 7 7 7 7 7 7 7 7 7 1 7 7 7 7|7 7 7 7 7 7 7 7 7 7 1 1 7 7 7 7 7 7 7 7 7 7 7 7 7 7 7 7 7 7 7 7 7 7 1 1 1 7 7 7 1 2 1 1 1 7 1 7 7 7 1 7 7 2 1 1 7 7 7 1 7 7 1 7 7 1 7 7|7 7 7 7 7 7 7 7 7 7 7 7 7 7 7 7 7 1 7 7 7 7 7 7 7 7 7 7 7 1 7 7 1 7 7 7 7 7 7 7 7 7 7 7 7 7 7 7 7 7",
"8 7 7 7 9 9 9 9 9 9 9 1 8 8 8 6 8 6 7 7 6 5 5 5 5 4 7 4 7 5 7 7 5 5 7 5 7 7 7 7 7 7 7 7 7 7 1 1 1 6 5 7 7 7 1 1 4 1 1 1 5 9|7 7 7 7 7 5 5 5 5 7 7 6 5 7 7 1 7 7 4 4 4 7 7 7 5 5 5 4 4 4 4 4 4 4 3 7 7 4 1 7 7 7 7 5 7 7 5 6 7 7 5 5 7 7 7 7 7 7 5 7 7 5 4 4 7 7 5 7|7 7 7 5 4 7 4 4 7 7 7 5 7 5 7 7 7 5 5 5 7 5 5 7 0 4 4 1 5 5 0 4 1 5 8 8 0 0 7 3 7 8 8 8 5 5 8 8 8 8",
"3 8 8 8 8 8 8 8 5 8 8 8 7 8 4 8 3 3 7 3 7 7 7 7 7 7 7 3 3 3 7 7 7 3 3 3 3 3 3 3 7 3 3 7 7 7 7 7 7 7 3 3 7 3 7 3 3 3 3 7 3 3|7 7 7 7 7 7 7 7 7 7 7 5 4 4 7 3 7 7 3 3 3 3 3 3 7 7 3 2 3 7 3 7 3 3 3 7 7 7 3 3 3 3 7 7 7 7 3 4 3 7 7 3 3 3 7 7 3 3 7 7 7 7 3 7 7 3 3 3|7 7 3 3 7 3 7 7 7 3 3 7 3 3 7 3 7 3 3 7 3 7 3 3 7 7 3 3 3 7 3 3 7 3 3 3 7 7 7 7 7 3 7 7 7 7 7 7 3 7",
"8 8 7 8 8 8 8 8 5 8 8 8 7 7 4 4 7 7 7 7 7 4 0 7 7 4 7 7 7 5 0 4 4 7 7 4 7 0 0 5 7 7 7 4 4 7 4 7 0 7 7 7 4 5 7 7 7 0 4 4 5 7|7 7 7 7 5 5 7 7 5 5 5 4 7 7 7 7 7 0 5 4 4 5 7 7 7 4 4 7 7 7 5 5 7 3 3 7 7 5 5 7 4 5 4 0 5 0 0 0 3 0 0 5 5 6 7 5 7 7 5 5 6 7 0 5 4 4 5 7|7 5 4 7 7 4 7 5 4 7 5 4 4 7 7 7 7 7 5 7 7 7 7 7 7 4 7 7 7 7 4 4 7 7 0 0 0 5 7 3 7 7 7 7 4 7 7 7 3 4",
"7 8 8 8 8 8 8 7 8 7 7 8 0 0 0 8 7 3 5 4 6 3 4 7 5 4 7 7 4 5 7 7 7 6 7 5 4 5 7 7 7 5 5 7 5 7 1 4 4 6 7 5 7 7 4 5 5 7 0 7 6 5|6 6 5 7 4 4 7 7 7 5 7 7 5 7 3 5 0 4 4 7 7 7 3 6 7 7 5 5 7 7 5 7 7 4 7 0 5 1 5 7 7 5 5 7 7 7 7 6 5 3 7 7 5 3 7 7 5 5 6 7 1 5 5 7 7 7 5 6|7 7 7 4 7 5 4 7 7 5 7 4 5 5 4 7 4 7 5 5 7 1 5 7 5 1 4 7 5 5 4 5 7 5 7 3 7 7 5 7 5 7 7 7 7 7 7 5 1 5",
"8 7 3 8 7 8 7 7 8 8 3 8 7 8 8 8 7 7 7 2 2 2 7 7 2 7 7 7 7 7 7 7 7 7 2 7 3 7 7 2 7 2 7 7 7 3 2 2 2 7 2 7 7 7 2 7 7 7 2 7 3 2|7 7 7 7 2 7 7 7 7 7 7 7 2 7 3 1 7 3 7 2 2 2 7 6 7 7 7 7 7 7 7 7 2 7 7 7 7 7 2 2 7 2 7 7 2 2 3 7 7 7 7 7 7 7 7 7 7 7 7 7 7 7 7 7 7 7 7 7|2 7 7 3 7 7 7 7 7 7 7 7 7 2 1 7 7 7 7 2 1 7 7 7 3 7 7 7 1 2 7 7 1 1 7 7 7 7 7 7 7 7 7 7 7 3 7 7 7 7",
"9 8 7 1 1 1 7 7 8 1 1 1 7 1 8 1 2 2 1 8 7 6 6 8 7 7 8 7 7 1 7 8 8 2 1 2 7 7 8 7 9 6 5 8 7 7 7 8 1 8 1 1 7 7 5 8 6 7 5 7 7 7|7 8 7 8 2 2 2 2 7 1 1 1 1 1 1 2 7 7 2 1 1 1 7 1 8 7 3 1 2 7 6 2 7 3 2 1 8 7 2 9 2 2 1 7 1 1 1 8 7 7 2 1 7 1 2 8 7 2 9 2 2 7 8 2 1 7 1 1|2 7 9 7 9 1 8 1 1 2 1 1 7 6 7 2 1 7 9 7 7 2 7 1 1 1 7 7 8 1 1 1 8 2 7 7 6 5 6 7 1 7 8 7 7 6 6 9 9 8",
"8 9 8 7 7 9 9 7 8 1 8 9 1 1 7 1 1 1 7 7 9 7 6 7 6 8 9 9 8 5 5 9 9 8 9 9 7 8 8 9 5 6 7 8 7 5 1 1 2 8 1 1 1 1 6 9 8 5 9 8 9 8|8 1 5 0 1 7 5 0 5 7 9 1 5 7 5 8 5 9 1 5 6 1 1 1 1 5 7 1 1 1 1 5 7 8 5 5 5 9 9 9 6 5 7 6 9 5 9 0 1 5 6 7 5 6 5 6 5 1 8 9 5 1 7 6 9 6 5 6|5 5 5 8 7 8 8 6 5 5 6 6 6 8 7 5 8 9 9 9 6 5 6 6 1 8 6 6 6 5 8 5 9 9 8 5 6 8 5 6 0 1 6 5 5 5 5 6 5 8",
"7 2 2 8 8 8 8 8 8 3 7 8 7 8 8 7 8 2 1 7 8 7 1 8 7 2 8 8 1 7 1 1 1 2 1 1 2 2 1 1 1 1 1 1 1 1 0 2 8 7 8 7 8 7 7 2 8 8 7 8 8 8|2 2 2 8 7 7 2 2 3 7 7 8 2 3 8 8 8 8 8 8 1 2 8 8 8 8 8 8 8 8 2 2 8 7 8 7 2 1 7 7 2 2 8 7 8 7 8 8 2 2 3 2 2 8 7 2 8 2 7 1 2 8 8 7 7 7 7 7|8 8 7 8 8 2 2 3 2 2 3 2 3 3 2 1 8 8 7 1 2 2 2 2 2 2 8 1 1 1 7 8 8 8 2 2 1 8 1 7 7 8 8 8 2 7 8 8 7 7",
"5 5 1 5 9 5 8 8 5 6 1 4 5 1 8 8 4 1 3 1 4 5 0 4 0 3 1 3 3 1 8 1 8 8 8 8 3 8 8 8 8 8 8 8 3 0 3 0 8 8 8 8 8 3 3 3 0 4 1 4 4 8|5 4 4 8 8 8 8 8 8 8 0 0 3 0 4 4 4 8 8 8 4 1 8 3 8 8 8 3 8 8 8 8 8 3 0 0 8 8 3 8 8 4 4 8 8 8 4 8 7 4 4 4 4 4 4 4 0 0 0 0 8 8 4 8 0 8 8 8|4 4 0 0 0 4 4 4 1 1 5 4 4 3 4 4 8 8 4 0 8 4 1 4 4 4 4 1 8 4 0 0 0 0 4 4 4 4 1 1 1 8 1 1 4 4 4 4 4 4",
"0 0 0 7 6 7 6 7 6 6 5 6 6 5 0 0 0 4 0 4 0 5 0 0 5 0 3 4 1 5 6 7 5 5 0 6 0 5 4 5 5 4 4 0 0 3 0 3 7 4 4 4 6 3 4 4 0 5 5 0 1 1|5 0 0 5 5 7 6 7 5 5 5 7 0 0 7 0 0 6 4 6 5 7 0 6 4 5 5 0 4 5 4 0 0 0 0 0 4 5 5 5 6 3 3 5 3 5 0 3 6 7 3 0 4 5 4 0 0 0 0 0 0 1 3 3 5 0 3 4|1 4 0 3 6 0 5 3 6 4 5 3 1 1 5 5 0 0 5 6 0 1 5 6 0 4 5 0 5 4 0 3 3 4 3 4 4 3 3 4 6 5 5 0 4 0 5 3 4 0",
"0 5 5 0 5 0 6 5 8 8 8 8 8 7 8 7 7 8 6 4 7 4 0 3 3 3 0 0 3 3 7 8 8 7 4 4 7 4 4 0 0 6 7 3 3 4 3 3 4 4 4 4 3 4 6 7 7 8 3 3 4 3|3 0 3 3 7 6 7 6 7 3 0 3 4 4 4 7 7 0 0 0 4 7 4 4 8 7 3 8 7 0 0 3 3 0 0 3 3 3 6 6 6 7 7 3 3 4 6 8 4 4 4 4 3 3 7 8 8 7 7 7 3 3 4 3 6 8 8 7 4|3 6 7 1 8 3 7 3 4 8 7 4 4 7 1 8 8 4 0 4 7 8 8 3 1 3 7 7 4 8 3 4 8 4 0 0 0 8 8 1 7 7 1 1 1 3 4 1 8 7",
"8 8 8 8 7 8 8 4 8 8 8 8 3 3 3 3 2 3 3 2 6 7 3 2 6 7 4 3 3 2 3 7 8 3 2 3 3 2 3 3 6 7 7 7 2 4 3 3 7 7 2 8 7 3 3 2 3 3 7 7 8 3|3 3 2 3 7 7 2 7 8 3 7 8 3 3 3 7 2 7 8 8 8 3 2 8 3 8 7 8 3 3 7 2 7 3 3 3 7 2 2 3 3 2 8 7 3 3 7 7 3 2 8 7 7 7 3 2 2 2 7 3 2 8 7 3 2 2 8 3|2 3 2 2 2 2 2 2 2 3 7 8 2 3 8 8 7 3 7 8 7 7 2 3 3 2 3 7 2 7 7 3 3 3 2 2 3 8 8 7 7 3 2 2 6 3 2 8 8 3",
"3 8 8 8 8 7 8 8 3 8 8 8 8 8 4 3 4 4 5 5 3 7 3 4 3 4 5 5 7 6 7 8 7 6 4 7 8 7 7 6 7 5 5 6 7 7 5 5 6 6 3 7 6 5 5 7 7 5 4 7 3 4|6 5 5 7 7 7 5 7 6 7 7 7 7 5 5 7 8 6 6 6 7 8 7 5 5 7 4 6 7 5 5 7 3 6 5 5 6 5 3 7 7 7 5 4 7 4 3 3 3 4 5 5 6 7 3 3 5 4 4 7 6 5 3 6 7 7 8 5|5 8 8 3 3 3 7 7 5 7 7 7 6 6 5 6 7 6 5 5 3 7 7 7 5 4 3 3 6 7 7 5 7 6 7 8 7 3 6 7 7 5 5 8 7 7 4 3 4 4",
"7 7 7 7 7 7 7 7 7 7 7 5 7 7 7 7 3 3 4 2 4 5 2 3 3 3 3 3 4 5 5 3 4 4 3 5 3 4 3 3 4 4 4 3 3 3 3 3 5 5 4 3 3 5 4 4 3 3 4 3 3 4|3 5 4 3 3 5 5 4 4 6 8 4 4 5 6 3 3 5 4 4 4 3 3 4 4 3 4 3 5 5 3 3 4 3 3 5 3 4 3 3 3 3 4 4 3 5 3 3 4 3 3 5 3 3 4 4 3 3 3 3 4 3 4 3 3 3 4 3|4 3 3 3 2 3 4 4 3 4 3 3 3 4 4 3 3 3 5 4 5 3 4 3 3 3 3 3 3 4 3 3 4 5 4 3 5 4 4 3 5 3 3 5 4 5 3 4 3 4",
"7 8 8 8 7 7 7 7 7 8 8 5 7 8 8 7 5 4 3 3 2 3 4 2 3 2 4 5 3 4 5 4 4 3 4 4 5 5 6 4 5 4 3 3 2 5 4 3 5 4 3 4 5 5 4 3 4 3 2 3 4 4|4 3 4 3 4 4 5 4 4 7 8 6 5 5 4 3 3 4 4 4 5 6 3 3 4 4 3 5 4 4 3 4 5 4 4 4 3 3 5 4 3 3 2 3 4 3 4 3 3 5 3 4 3 3 4 3 5 5 6 4 4 3 3 4 3 3 5 4|5 6 6 4 3 3 5 4 4 3 5 4 3 5 5 3 5 4 4 3 4 4 3 2 5 4 3 3 2 5 4 5 3 3 5 4 3 4 3 4 5 5 3 3 4 5 5 3 3 5",
"8 8 8 8 8 8 8 8 8 8 8 5 8 8 8 8 4 4 5 3 5 5 3 4 4 3 3 4 5 6 3 4 4 5 4 3 5 5 3 5 4 5 5 4 4 4 3 4 5 3 4 5 5 4 6 5 4 3 4 3 4 4|5 3 5 5 5 6 6 5 4 8 8 5 5 6 5 4 4 3 5 5 5 6 4 4 5 5 4 6 4 5 4 3 5 5 4 5 5 4 4 3 5 5 4 3 3 4 4 4 5 6 5 5 4 3 4 4 4 5 4 3 3 3 3 4 4 5 5 5|5 5 3 3 4 5 4 5 5 4 4 3 4 5 4 3 3 5 5 4 5 3 5 4 4 4 3 3 5 5 5 3 3 3 4 5 5 4 3 4 5 5 6 5 4 4 5 5 4 5",
"8 8 8 8 8 8 8 8 8 8 8 5 8 8 8 8 5 4 5 3 5 4 4 5 5 5 6 4 5 5 4 4 5 4 5 6 3 5 5 5 5 4 5 5 5 4 4 5 6 5 5 6 5 5 6 4 4 3 3 4 5 5|5 3 4 5 5 5 5 6 5 8 8 6 5 5 5 4 4 3 5 5 5 6 5 3 5 5 5 5 6 4 4 4 5 5 5 5 4 5 5 4 4 3 3 3 4 5 6 5 5 5 4 5 4 5 4 5 4 5 5 6 6 4 3 5 5 6 5 5|6 6 4 4 4 5 6 5 5 4 4 5 6 4 4 4 5 5 6 4 5 4 4 4 3 3 4 5 4 4 3 3 5 4 5 4 4 6 8 5 5 6 5 5 5 5 6 5 4 5"
];
const H30="#ff4500",L30="#1e90ff",FEMALE="#ff1493",MALE="#00e5ee";
const AGE=["#cda800","#d97a10","#e2561c","#ec3126"];
const LEVEL=["#0f7bd1","#2185d6","#5ba6e0","#9ec9ec","#d6e8f7","#ffffff","#fcdfe4","#f6b3bf","#ee6c80","#e94f66"];

/* ---------- dendrogram trees: [height, child, child]; 0 = leaf ---------- */
const treeRowC=[137,[85,[83,[68,[70,0,0],[55,0,[50,[38,0,0],[48,0,0]]]],0],[68,0,[65,0,[55,0,[47,0,0]]]]],[90,0,[80,0,[72,0,0]]]];
const tA1=[115,[90,0,[70,0,0]],[108,0,[88,0,0]]];
const tB=[105,[70,0,0],[75,0,0]];
const tC=[115,[72,0,0],[100,[90,[35,0,0],[60,0,0]],[98,[66,0,0],[75,0,[50,0,[35,0,0]]]]]];
const tD=[123,0,[118,[95,[70,0,0],[75,0,[50,0,0]]],[105,[75,[40,0,0],[65,0,0]],[90,[60,0,[30,0,0]],[65,0,0]]]]];
const tE=[140,[118,[75,0,[45,0,0]],[90,[55,0,0],[85,0,0]]],[100,[80,0,0],[115,[70,0,0],[85,0,[65,0,0]]]]];
const tF=[125,[100,[45,0,[30,0,0]],[85,[50,0,0],[45,0,0]]],[105,[85,0,0],[90,0,0]]];
const tG=[125,[100,[60,0,0],[90,[55,0,0],[45,0,[30,0,0]]]],[95,[60,0,0],[50,0,0]]];
const tH=[110,[95,0,[60,0,0]],[90,[65,0,0],[40,0,0]]];
const tI=[125,[100,[80,0,[60,0,0]],[60,0,0]],[105,[50,0,0],[65,0,0]]];
const tJ=[120,[100,[70,0,0],[60,0,[48,0,0]]],[85,[75,0,0],[45,0,0]]];
const tK=[110,[90,[58,0,0],[45,0,0]],[85,[55,0,0],[50,0,[35,0,0]]]];
const tL=[115,[75,[45,0,0],[50,0,0]],[90,[55,0,[35,0,0]],[60,[45,0,0],[50,0,0]]]];
const tM=[110,[85,[48,0,[30,0,0]],[60,0,0]],[65,[45,0,[25,0,0]],[40,0,0]]];
const tN=[120,[95,[80,0,0],[60,0,[40,0,0]]],[80,0,[65,0,[50,0,0]]]];
const tO=[135,[110,[70,0,[55,0,0]],[80,[50,0,[30,0,0]],[60,0,[35,0,0]]]],[95,[75,[45,0,0],0],[65,0,[45,0,0]]]];
const tP=[125,[100,[65,0,0],[70,0,[45,0,0]]],[88,[55,0,[35,0,0]],[48,0,0]]];
const treeColC=[180,[150,tA1,[128,[118,tB,tC],tD]],[172,[165,tE,[148,[130,tF,tG],tH]],[160,[150,tI,tJ],[155,[140,tK,tL],[145,[130,tM,tN],[140,tO,tP]]]]]];

const treeRowD=[112,[66,0,0],[88,[72,[68,0,[60,0,[56,[48,0,0],[50,0,[42,0,[36,0,0]]]]]],[62,0,[45,0,0]]],[82,[75,[60,0,0],[65,[50,0,0],[55,[40,0,0],[45,0,0]]]],[76,[66,[52,0,0],[60,[40,0,0],0]],[62,[40,0,0],[58,0,[48,0,[42,0,[35,[25,0,0],0]]]]]]]]];
const d1=[60,[45,0,[30,0,0]],[52,0,[38,[24,0,0],[30,0,0]]]];
const d2=[55,[40,[26,0,0],0],[50,[30,0,0],[42,0,[28,0,0]]]];
const d3=[62,[38,0,0],[50,[42,0,[26,0,0]],[36,[28,0,0],0]]];
const d4=[58,[48,0,[34,0,0]],[44,[30,0,0],[36,0,[22,0,0]]]];
const d5=[54,[44,[30,0,0],[26,0,0]],[46,0,[38,0,[24,0,0]]]];
const d6=[60,[52,0,[38,0,[28,0,0]]],[42,[26,0,0],[34,0,0]]];
const d7=[56,[36,0,0],[48,[38,0,[22,0,0]],[40,[30,0,0],0]]];
const d8=[52,[42,[32,0,0],0],[46,[36,0,[24,0,0]],[28,0,0]]];
const d9=[64,[50,[34,0,0],[28,0,0]],[40,0,[32,0,[26,0,0]]]];
const d10=[58,[46,0,[36,[26,0,0],0]],[38,[24,0,0],[30,0,0]]];
const treeColD=[103,[98,[92,[80,d1,d2],[86,d3,d4]],[88,[76,d5,d6],[78,d7,d8]]],[96,[90,[74,d9,d10],[82,d2,d5]],[94,[84,[70,d4,d7],[76,d6,d1]],[88,[72,d8,d3],[80,d10,d9]]]]];

/* ---------- stipple textures for the unresolvable part of the point clouds ---------- */
const denseTile=[[4,6],[15,3],[26,8],[37,2],[48,7],[57,13],[9,15],[20,14],[31,17],[42,13],[52,22],[3,24],[14,25],[25,26],[36,24],[46,28],[57,32],[8,33],[19,35],[30,34],[40,37],[51,41],[2,42],[13,44],[24,43],[35,46],[45,50],[56,52],[7,52],[18,54],[29,55],[39,57],[50,58]];
const sparseTile=[[7,12],[28,5],[52,16],[74,8],[15,33],[39,28],[63,37],[84,27],[5,52],[27,50],[48,57],[71,53],[88,66],[16,72],[38,76],[60,70],[79,83],[34,88],[47,41],[22,61],[64,84],[76,20]];
function stipple(list,size,r){
  const cv=document.createElement('canvas');cv.width=size;cv.height=size;
  const g=cv.getContext('2d');g.fillStyle='#000';
  for(const [x,y] of list)for(const dx of [-size,0,size])for(const dy of [-size,0,size]){g.beginPath();g.arc(x+dx,y+dy,r,0,7);g.fill();}
  return {image:cv,repeat:'repeat'};
}
const FILL_DENSE=stipple(denseTile,60,3.8), FILL_SPARSE=stipple(sparseTile,90,3.7);

/* ---------- builders ---------- */
const FONT='"Liberation Sans",Arial,sans-serif';
const clean=s=>s.replace(/\s+/g,"");
const fit=(s,n)=>{s=clean(s);while(s.length<n)s+=s[s.length-1];return s.slice(0,n)};
const chart=echarts.init(document.getElementById('c'),null,{renderer:'canvas',width:2979,height:3607});
const grid=[],xAxis=[],yAxis=[],series=[],mainIdx=[],annoIdx=[];
function addGrid(g,x,y){grid.push(g);x.gridIndex=grid.length-1;y.gridIndex=grid.length-1;xAxis.push(x);yAxis.push(y);return grid.length-1}
function region(gi,ring,fill,z){
  series.push({type:'custom',xAxisIndex:gi,yAxisIndex:gi,silent:true,z,data:[[0,0]],clip:true,
    renderItem:(p,api)=>({type:'polygon',shape:{points:ring.map(q=>api.coord(q))},style:{fill},silent:true})});
}
function volcano(box,xr,yr,xt,yt,regions,black,teal,pink){
  const gi=addGrid(
   {left:box[0],top:box[1],width:box[2],height:box[3],show:true,borderColor:'#3c3c3c',borderWidth:3,backgroundColor:'#fff'},
   {type:'value',min:xr[0],max:xr[1],position:'bottom',name:'Fold changes between more and less 30 FLI',nameLocation:'middle',nameGap:117,nameTextStyle:{fontSize:29,color:'#444',fontFamily:FONT},
    splitLine:{show:false},axisLine:{show:false,onZero:false},
    axisTick:{show:true,length:18,customValues:xt,lineStyle:{color:'#444',width:2}},
    axisLabel:{customValues:xt,fontSize:30,color:'#444',fontFamily:FONT,margin:45,hideOverlap:false,formatter:v=>Number(v).toFixed(2)}},
   {type:'value',min:yr[0],max:yr[1],name:'-log10(P-value)',nameLocation:'middle',nameGap:109,nameTextStyle:{fontSize:29,color:'#444',fontFamily:FONT},
    splitLine:{show:false},axisLine:{show:false,onZero:false},
    axisTick:{show:true,length:18,customValues:yt,lineStyle:{color:'#444',width:2}},
    axisLabel:{customValues:yt,fontSize:30,color:'#444',fontFamily:FONT,rotate:90,margin:34,hideOverlap:false}}
  );
  regions.forEach((r,i)=>region(gi,r[0],r[1],2));
  series.push({type:'scatter',xAxisIndex:gi,yAxisIndex:gi,data:black,symbol:'circle',symbolSize:7.5,silent:true,z:3,itemStyle:{color:'#000'},large:false,
    markLine:{silent:true,symbol:'none',animation:false,label:{show:false},data:[
      {yAxis:hLine[0],lineStyle:{color:'#bdbdbd',type:'dotted',width:2.5}},
      {xAxis:vLineTeal[0],lineStyle:{color:'#3fb3b8',type:'dotted',width:2.5}},
      {xAxis:vLinePink[0],lineStyle:{color:'#f563a8',type:'dotted',width:2.5}}]}});
  series.push({type:'scatter',xAxisIndex:gi,yAxisIndex:gi,data:teal,symbolSize:7,silent:true,z:4,itemStyle:{color:'#2f9ea6'}});
  series.push({type:'scatter',xAxisIndex:gi,yAxisIndex:gi,data:pink,symbolSize:7,silent:true,z:4,itemStyle:{color:'#f0419a'}});
}
function hiddenAxes(n,left,top,w,h,xr,yr){return addGrid({left,top,width:w,height:h},
  {type:'value',min:xr[0],max:xr[1],inverse:xr[2]||false,show:false},{type:'value',min:yr[0],max:yr[1],inverse:yr[2]||false,show:false})}
function treeSegs(t,n,vertical){
  const segs=[];let leaf=0;
  const count=x=>x===0?1:count(x[1])+count(x[2]);
  const k=n/count(t);
  const walk=x=>{ if(x===0){const p=(leaf+0.5)*k;leaf++;return [p,0];}
    const a=walk(x[1]),b=walk(x[2]),h=x[0];
    segs.push([a[0],a[1],a[0],h],[b[0],b[1],b[0],h],[a[0],h,b[0],h]);
    return [(a[0]+b[0])/2,h];};
  walk(t);
  return vertical?segs:segs.map(s=>[s[1],s[0],s[3],s[2]]);
}
function dendro(gi,segs,w){
  series.push({type:'custom',xAxisIndex:gi,yAxisIndex:gi,silent:true,data:segs,clip:false,
   renderItem:(p,api)=>{const a=api.coord([api.value(0),api.value(1)]),b=api.coord([api.value(2),api.value(3)]);
     return {type:'line',shape:{x1:a[0],y1:a[1],x2:b[0],y2:b[1]},style:{stroke:'#5a5a5a',lineWidth:w}}}});
}
function annoBar(left,top,w,h,n,name,str,offset,fs){
  const cats=[];for(let i=0;i<n;i++)cats.push(i);
  const gi=addGrid({left,top,width:w,height:h},
   {type:'category',data:cats,show:false},
   {type:'category',data:[name],position:'right',axisLine:{show:false},axisTick:{show:false},
    axisLabel:{fontSize:fs,fontWeight:'bold',color:'#3a3a3a',fontFamily:FONT,margin:5}});
  const s=fit(str,n),data=[];for(let i=0;i<n;i++)data.push([i,0,+s[i]+offset]);
  annoIdx.push(series.length);
  series.push({type:'heatmap',xAxisIndex:gi,yAxisIndex:gi,data,silent:true,progressive:0});
}
function heat(left,top,w,h,rowNames,sample,rows,segLens,xfs,xMargin,yfs){
  const n=segLens.reduce((a,b)=>a+b,0);
  const labs=[];for(let i=0;i<n;i++)labs.push('NIH20L'+(sample[i]||''));
  const gi=addGrid({left,top,width:w,height:h},
   {type:'category',data:labs,position:'bottom',axisLine:{show:false},axisTick:{show:false},splitArea:{show:false},
    axisLabel:{interval:0,rotate:-90,fontSize:xfs,color:'#555',fontFamily:FONT,margin:xMargin}},
   {type:'category',data:rowNames,inverse:true,position:'right',axisLine:{show:false},axisTick:{show:false},
    axisLabel:{interval:0,fontSize:yfs,color:'#555',fontFamily:FONT,margin:6}});
  const data=[];
  rows.forEach((r,y)=>{
    let s;
    if(r.indexOf('|')>=0){s=r.split('|').map((p,j)=>fit(p,segLens[j])).join('')}else{s=fit(r,n)}
    for(let x=0;x<n;x++)data.push([x,y,+s[x]]);
  });
  mainIdx.push(series.length);
  series.push({type:'heatmap',xAxisIndex:gi,yAxisIndex:gi,data,silent:true,progressive:0});
}

/* ---------- panels ---------- */
volcano([155,100,1267,1162],[-0.1745,0.1487],[-0.245,6.07],xTicksA,yTicksA,
  [[sparseLeftA,FILL_SPARSE],[sparseRightA,FILL_SPARSE],[denseLeftA,FILL_DENSE],[denseRightA,FILL_DENSE],[coreA,'#000']],blackA,tealA,pinkA);
volcano([1644,100,1267,1162],[-0.1226,0.1597],[-0.5,12.42],xTicksB,yTicksB,
  [[sparseLeftB,FILL_SPARSE],[sparseRightB,FILL_SPARSE],[denseLeftB,FILL_DENSE],[denseRightB,FILL_DENSE],[coreB,'#000']],blackB,tealB,pinkB);

/* (c) */
const nC=142;
dendro(hiddenAxes(0,99,1624,2602,89,[0,nC],[0,180]),treeSegs(treeColC,nC,true),1.6);
dendro(hiddenAxes(0,11,1774,88,462,[0,137,true],[0,17,true]),treeSegs(treeRowC,17,false),1.6);
annoBar(99,1713,2602,16,nC,'CT1_FLI_30',ctC,0,17);
annoBar(99,1733,2602,16,nC,'AS1_AGE',ageC,10,17);
annoBar(99,1753,2602,16,nC,'Gender',genderC,3,17);
heat(99,1774,2602,462,rowsC,sampleC,matC,[nC],15,8,17);

/* (d) */
const nD=180;
dendro(hiddenAxes(0,82,2540,2665,71,[0,nD],[0,103]),treeSegs(treeColD,nD,true),1.3);
dendro(hiddenAxes(0,11,2660,71,667,[0,112,true],[0,34,true]),treeSegs(treeRowD,34,false),1.3);
annoBar(82,2612,2665,13,nD,'CT1_FLI_30',ctD,0,14);
annoBar(82,2628,2665,13,nD,'AS1_AGE',ageD,10,14);
annoBar(82,2643,2665,13,nD,'Gender','2',0,14);
heat(82,2660,2665,667,rowsD,sampleD,matD,[62,68,50],13,6,14);

/* ---------- legends as graphics ---------- */
const gfx=[];
const txt=(x,y,t,fs,o={})=>gfx.push({type:'text',x,y,silent:true,style:Object.assign({text:t,fontSize:fs,fontFamily:FONT,fill:'#555',textVerticalAlign:'middle',textBaseline:'middle'},o)});
const rct=(x,y,w,h,fill)=>gfx.push({type:'rect',silent:true,shape:{x,y,width:w,height:h},style:{fill}});
const grad=()=>new echarts.graphic.LinearGradient(0,0,0,1,[...LEVEL].reverse().map((c,i)=>({offset:i/9,color:c})));
function legend(cb,cbTicks,cbX,tX,fs,fsB,ct,age,ageL,gen,sw){
  rct(cb[0],cb[1],cb[2],cb[3],grad());
  cbTicks.forEach(t=>txt(cbX,t[0],t[1],fs));
  txt(tX,ct[0],'CT1_FLI_30',fsB,{fontWeight:'bold',fill:'#333'});
  rct(tX+1,ct[1],sw,ct[2],H30);rct(tX+1,ct[1]+ct[2],sw,ct[2],L30);
  txt(tX+sw+6,ct[1]+ct[2]/2,'FLI_H30',fs-1);txt(tX+sw+6,ct[1]+ct[2]*1.5,'FLI_L30',fs-1);
  txt(tX,age[0],'AS1_AGE',fsB,{fontWeight:'bold',fill:'#333'});
  AGE.forEach((c,i)=>rct(tX+1,age[1]+i*age[2]/4,sw,age[2]/4,c));
  txt(tX+sw+6,ageL[0],'65',fs-1);txt(tX+sw+6,ageL[1],'40',fs-1);
  txt(tX,gen[0],'Gender',fsB,{fontWeight:'bold',fill:'#333'});
  rct(tX+1,gen[1],sw,gen[2],FEMALE);rct(tX+1,gen[1]+gen[2],sw,gen[2],MALE);
  txt(tX+sw+6,gen[1]+gen[2]/2,'Female',fs-1);txt(tX+sw+6,gen[1]+gen[2]*1.5,'Male',fs-1);
}
legend([2814,1711,16,249],[[1754,'0.8'],[1808,'0.6'],[1861,'0.4'],[1914,'0.2']],2838,2863,18,18,[1721,1732,27],[1816,1827,109],[1844,1925],[1967,1978,27],26);
legend([2849,2611,13,198],[[2648,'0.8'],[2691,'0.6'],[2733,'0.4'],[2774,'0.2']],2868,2888,15,14,[2618,2627,22],[2694,2704,87],[2716,2783],[2814,2825,22],22);

const pl=(x,y,t)=>({text:t,left:x,top:y,textAlign:'center',textStyle:{fontSize:58,fontWeight:'bold',fontFamily:'"Liberation Serif",serif',color:'#222'}});
chart.setOption({
  animation:false,backgroundColor:'#fff',
  title:[
   {text:'Volcano plot of more 30 95 cases vs less 30 47 cases (by FLI; male 142)',left:788,top:8,textAlign:'center',textStyle:{fontSize:36,fontWeight:'bold',fontFamily:FONT,color:'#111'}},
   {text:'Volcano plot of more 30 99 cases vs less 30 81 cases (by FLI; female 180)',left:2277,top:8,textAlign:'center',textStyle:{fontSize:36,fontWeight:'bold',fontFamily:FONT,color:'#111'}},
   pl(820,1495,'(a)'),pl(2176,1465,'(b)'),pl(1497,2400,'(c)'),pl(1497,3528,'(d)')
  ],
  grid,xAxis,yAxis,series,graphic:gfx,
  visualMap:[
   {type:'continuous',show:false,min:0,max:9,dimension:2,seriesIndex:mainIdx,inRange:{color:LEVEL}},
   {type:'piecewise',show:false,dimension:2,seriesIndex:annoIdx,pieces:[
     {value:0,color:H30},{value:1,color:L30},{value:2,color:FEMALE},{value:4,color:MALE},
     {value:10,color:AGE[0]},{value:11,color:AGE[1]},{value:12,color:AGE[2]},{value:13,color:AGE[3]}]}
  ]
});
</script></body></html>
